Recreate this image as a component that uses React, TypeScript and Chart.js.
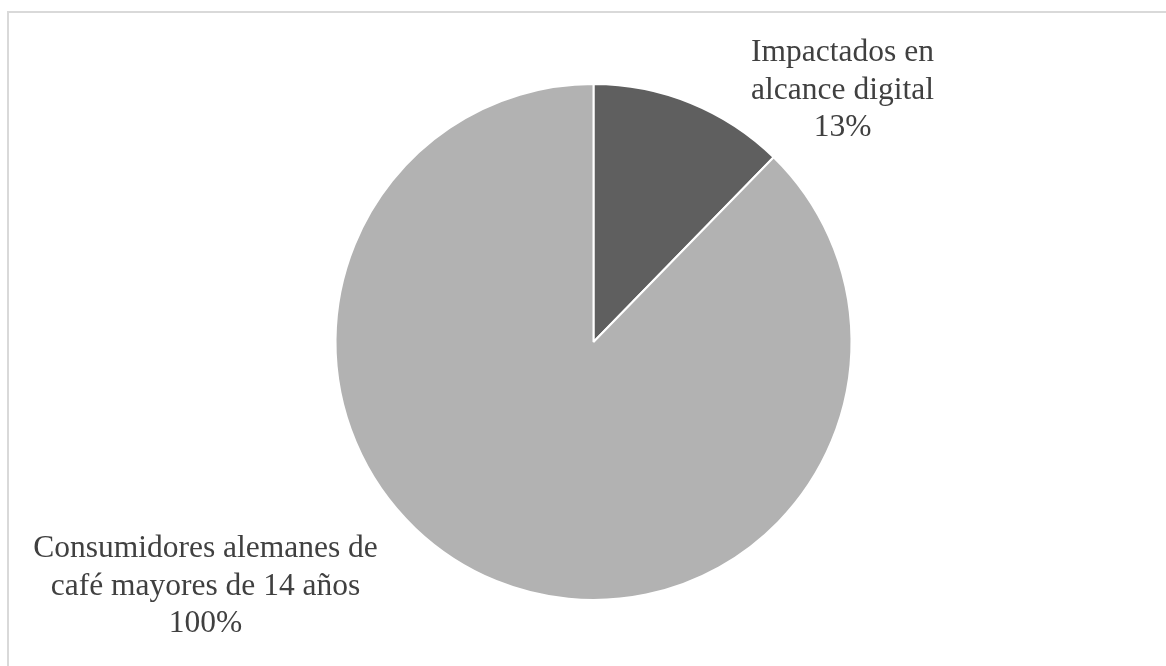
import React, { useEffect, useRef } from "react";
import { Chart, registerables } from "chart.js";

Chart.register(...registerables);

// Data
const categories = ["Impactados en alcance digital", "Consumidores alemanes de café mayores de 14 años"];
const sliceValues = [12.3, 87.7];
const labelLines = [
  ["Impactados en", "alcance digital", "13%"],
  ["Consumidores alemanes de", "café mayores de 14 años", "100%"],
];
const sliceColors = ["#5f5f5f", "#b2b2b2"];

// label offsets relative to pie centre (first-line baseline)
const labelOffsets = [
  { dx: 249, dy: -281 },
  { dx: -388, dy: 215 },
];

const framePlugin = {
  id: "frame",
  beforeDraw(chart: any) {
    const ctx = chart.ctx;
    ctx.save();
    ctx.fillStyle = "#ffffff";
    ctx.fillRect(0, 0, chart.width, chart.height);
    ctx.fillStyle = "#d9d9d9";
    ctx.fillRect(7, 11, chart.width - 7, 2);
    ctx.fillRect(7, 11, 2, chart.height - 11);
    ctx.restore();
  },
};

const labelPlugin = {
  id: "sliceLabels",
  afterDraw(chart: any) {
    const ctx = chart.ctx;
    const meta = chart.getDatasetMeta(0);
    ctx.save();
    ctx.font = "31.5px 'Liberation Serif', 'Times New Roman', serif";
    ctx.fillStyle = "#404040";
    ctx.textAlign = "center";
    ctx.textBaseline = "alphabetic";
    meta.data.forEach((arc: any, i: number) => {
      const off = labelOffsets[i];
      const cx = arc.x + off.dx;
      const cy = arc.y + off.dy;
      labelLines[i].forEach((line, j) => {
        ctx.fillText(line, cx, cy + j * 37.5);
      });
    });
    ctx.restore();
  },
};

export default function App() {
  const canvasRef = useRef<HTMLCanvasElement | null>(null);

  useEffect(() => {
    if (!canvasRef.current) return;
    const chart = new Chart(canvasRef.current, {
      type: "pie",
      data: {
        labels: categories,
        datasets: [
          {
            data: sliceValues,
            backgroundColor: sliceColors,
            borderColor: "#ffffff",
            borderWidth: 2,
          },
        ],
      },
      options: {
        animation: false,
        responsive: false,
        layout: { padding: { left: 334.5, right: 313.5, top: 83, bottom: 65 } },
        plugins: {
          legend: { display: false },
          tooltip: { enabled: false },
        },
      },
      plugins: [framePlugin, labelPlugin],
    });
    return () => chart.destroy();
  }, []);

  return (
    <div style={{ position: "fixed", left: 0, top: 0, width: 1166, height: 666, background: "#fff" }}>
      <canvas ref={canvasRef} width={1166} height={666} style={{ display: "block", width: 1166, height: 666 }} />
    </div>
  );
}
